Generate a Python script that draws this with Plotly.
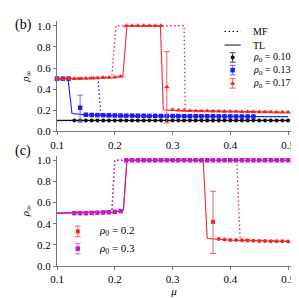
import plotly.graph_objects as go

# ---------------- data (panel b) ----------------
mu_k = [round(0.13 + 0.01 * i, 2) for i in range(38)]
rho_k = [0.105] * 38
tl_k_x = [0.1, 0.5]
tl_k_y = [0.105, 0.105]
mf_k_x = [0.1, 0.5]
mf_k_y = [0.102, 0.102]

mu_b = [0.10, 0.11, 0.12] + [round(0.15 + 0.01 * i, 2) for i in range(30)]
rho_b = [0.5, 0.5, 0.5,
         0.158, 0.156, 0.155, 0.154, 0.153, 0.152, 0.151, 0.150, 0.150, 0.149,
         0.149, 0.148, 0.148, 0.147, 0.147, 0.146, 0.146, 0.145, 0.145, 0.145,
         0.144, 0.144, 0.144, 0.143, 0.143, 0.143, 0.142, 0.142, 0.142, 0.142]
mu_b_err = [0.14]
rho_b_err = [0.225]
b_err_plus = [0.12]
b_err_minus = [0.135]
tl_b_x = [0.10, 0.119, 0.126, 0.139, 0.15, 0.2, 0.3, 0.4, 0.5]
tl_b_y = [0.5, 0.5, 0.17, 0.165, 0.157, 0.150, 0.145, 0.142, 0.140]
mf_b_x = [0.10, 0.171, 0.176, 0.2, 0.3, 0.4, 0.5]
mf_b_y = [0.5, 0.5, 0.145, 0.142, 0.141, 0.140, 0.140]

mu_r = ([round(0.10 + 0.01 * i, 2) for i in range(19)]
        + [round(0.30 + 0.01 * i, 2) for i in range(21)])
rho_r = [0.5, 0.5, 0.5, 0.5, 0.5, 0.502, 0.504, 0.506, 0.508, 0.51, 0.513, 0.52,
         1.0, 1.0, 1.0, 1.0, 1.0, 1.0, 1.0,
         0.205, 0.2, 0.198, 0.196, 0.195, 0.194, 0.193, 0.192, 0.191, 0.19,
         0.189, 0.188, 0.187, 0.186, 0.186, 0.185, 0.184, 0.184, 0.183, 0.183, 0.182]
mu_r_err = [0.29]
rho_r_err = [0.42]
r_err_plus = [0.335]
r_err_minus = [0.34]
tl_r_x = [0.10, 0.20, 0.214, 0.221, 0.279, 0.284, 0.30, 0.40, 0.50]
tl_r_y = [0.5, 0.51, 0.527, 1.0, 1.0, 0.205, 0.2, 0.19, 0.182]
mf_r_x = [0.10, 0.195, 0.202, 0.32, 0.322, 0.40, 0.50]
mf_r_y = [0.5, 0.52, 1.0, 1.0, 0.195, 0.188, 0.182]

# ---------------- data (panel c) ----------------
mu_c2 = ([round(0.13 + 0.01 * i, 2) for i in range(24)]
         + [round(0.38 + 0.01 * i, 2) for i in range(13)])
rho_c2 = [0.5, 0.5, 0.5, 0.502, 0.504, 0.506, 0.508, 0.512, 0.52,
          1.0, 1.0, 1.0, 1.0, 1.0, 1.0, 1.0, 1.0, 1.0, 1.0, 1.0, 1.0, 1.0, 1.0, 1.0,
          0.255, 0.25, 0.247, 0.245, 0.243, 0.241, 0.239, 0.237, 0.236, 0.235,
          0.234, 0.233, 0.232]
mu_c2_err = [0.37]
rho_c2_err = [0.418]
c2_err_plus = [0.288]
c2_err_minus = [0.30]
tl_c2_x = [0.10, 0.20, 0.215, 0.221, 0.353, 0.36, 0.40, 0.50]
tl_c2_y = [0.5, 0.51, 0.53, 1.0, 1.0, 0.26, 0.245, 0.232]
mf_c2_x = [0.10, 0.195, 0.20, 0.411, 0.417, 0.50]
mf_c2_y = [0.5, 0.52, 1.0, 1.0, 0.25, 0.235]

mu_c3 = [round(0.13 + 0.01 * i, 2) for i in range(38)]
rho_c3 = [0.5, 0.5, 0.5, 0.502, 0.504, 0.506, 0.508, 0.512, 0.52] + [1.0] * 29
tl_c3_x = [0.10, 0.20, 0.215, 0.221, 0.50]
tl_c3_y = [0.5, 0.51, 0.53, 1.0, 1.0]
mf_c3_x = [0.10, 0.195, 0.20, 0.50]
mf_c3_y = [0.5, 0.52, 1.0, 1.0]

x_ticks = [0.1, 0.2, 0.3, 0.4, 0.5]
y_ticks = [0.0, 0.2, 0.4, 0.6, 0.8, 1.0]

BLACK = "#111111"
BLUE = "#1a1aff"
RED = "#f02828"
MAG = "#c020c0"
FONT = "Liberation Serif"
DOT = "1.5px,2.5px"
TICK_SIZE = 11
LEG_SIZE = 10

fig = go.Figure()


def line(x, y, color, dash, xa, ya, width=1.1):
    fig.add_trace(go.Scatter(x=x, y=y, mode="lines", showlegend=False,
                             line=dict(color=color, width=width, dash=dash),
                             xaxis=xa, yaxis=ya, hoverinfo="skip"))


def pts(x, y, color, symbol, size, xa, ya, err=None, errcolor=None):
    kw = {}
    if err is not None:
        kw["error_y"] = dict(type="data", array=err[0], arrayminus=err[1],
                             symmetric=False, color=errcolor, thickness=1, width=3)
    fig.add_trace(go.Scatter(x=x, y=y, mode="markers", showlegend=False,
                             marker=dict(color=color, symbol=symbol, size=size, line=dict(width=0)),
                             xaxis=xa, yaxis=ya, cliponaxis=False, **kw))


# panel b
line(mf_k_x, mf_k_y, BLACK, DOT, "x", "y")
line(tl_k_x, tl_k_y, BLACK, "solid", "x", "y")
pts(mu_k, rho_k, BLACK, "circle", 4, "x", "y")
line(mf_b_x, mf_b_y, BLUE, DOT, "x", "y", 1.3)
line(tl_b_x, tl_b_y, BLUE, "solid", "x", "y")
pts(mu_b, rho_b, BLUE, "square", 4.5, "x", "y")
pts(mu_b_err, rho_b_err, BLUE, "square", 4.5, "x", "y",
    err=(b_err_plus, b_err_minus), errcolor="#6a6aff")
line(mf_r_x, mf_r_y, RED, DOT, "x", "y", 1.3)
line(tl_r_x, tl_r_y, RED, "solid", "x", "y")
pts(mu_r, rho_r, RED, "triangle-up", 5, "x", "y")
pts(mu_r_err, rho_r_err, RED, "triangle-up", 5, "x", "y",
    err=(r_err_plus, r_err_minus), errcolor="#f06060")

# panel c
line(mf_c2_x, mf_c2_y, RED, DOT, "x2", "y2", 1.3)
line(tl_c2_x, tl_c2_y, RED, "solid", "x2", "y2")
pts(mu_c2, rho_c2, RED, "circle", 4, "x2", "y2")
pts(mu_c2_err, rho_c2_err, RED, "square", 4, "x2", "y2",
    err=(c2_err_plus, c2_err_minus), errcolor="#f06060")
line(mf_c3_x, mf_c3_y, MAG, DOT, "x2", "y2", 1.3)
line(tl_c3_x, tl_c3_y, MAG, "solid", "x2", "y2")
pts(mu_c3, rho_c3, MAG, "square", 4.5, "x2", "y2")

# ---------------- legends (drawn glyphs + text) ----------------
leg_b_labels = ["MF", "TL", "<i>ρ</i><sub>0</sub> = 0.10",
                "<i>ρ</i><sub>0</sub> = 0.13", "<i>ρ</i><sub>0</sub> = 0.17"]
leg_b_y = [0.945, 0.818, 0.70, 0.58, 0.455]
leg_b_gx = 0.404
leg_b_tx = 0.435
line([leg_b_gx - 0.014, leg_b_gx + 0.014], [leg_b_y[0]] * 2, BLACK, DOT, "x", "y")
line([leg_b_gx - 0.014, leg_b_gx + 0.014], [leg_b_y[1]] * 2, BLACK, "solid", "x", "y")
pts([leg_b_gx], [leg_b_y[2]], BLACK, "circle", 4, "x", "y", err=([0.045], [0.045]), errcolor="#444444")
pts([leg_b_gx], [leg_b_y[3]], BLUE, "square", 4.5, "x", "y", err=([0.045], [0.045]), errcolor="#6a6aff")
pts([leg_b_gx], [leg_b_y[4]], RED, "triangle-up", 5, "x", "y", err=([0.045], [0.045]), errcolor="#f06060")

leg_c_labels = ["<i>ρ</i><sub>0</sub> = 0.2", "<i>ρ</i><sub>0</sub> = 0.3"]
leg_c_y = [0.327, 0.164]
leg_c_gx = 0.136
leg_c_tx = 0.170
pts([leg_c_gx], [leg_c_y[0]], RED, "square", 4, "x2", "y2", err=([0.05], [0.05]), errcolor="#f06060")
pts([leg_c_gx], [leg_c_y[1]], MAG, "square", 4.5, "x2", "y2", err=([0.05], [0.05]), errcolor="#d070d0")

annots = []
for lab, yy in zip(leg_b_labels, leg_b_y):
    annots.append(dict(x=leg_b_tx, y=yy, xref="x", yref="y", text=lab, showarrow=False,
                       xanchor="left", yanchor="middle", font=dict(family=FONT, size=LEG_SIZE)))
for lab, yy in zip(leg_c_labels, leg_c_y):
    annots.append(dict(x=leg_c_tx, y=yy, xref="x2", yref="y2", text=lab, showarrow=False,
                       xanchor="left", yanchor="middle", font=dict(family=FONT, size=LEG_SIZE + 1)))
annots.append(dict(x=0.0, y=1.0, xref="paper", yref="paper", text="(b)", showarrow=False,
                   font=dict(family=FONT, size=14), xshift=-34, yshift=-4,
                   xanchor="center", yanchor="middle"))
annots.append(dict(x=0.0, y=0.451, xref="paper", yref="paper", text="(c)", showarrow=False,
                   font=dict(family=FONT, size=14), xshift=-34, yshift=5,
                   xanchor="center", yanchor="middle"))

axis_common = dict(range=[0.1, 0.505], tickvals=x_ticks, ticktext=[f"{v:.1f}" for v in x_ticks],
                   showline=True, linecolor="#777777", linewidth=1, ticks="outside",
                   ticklen=3, tickcolor="#777777", showgrid=False, zeroline=False,
                   tickfont=dict(family=FONT, size=TICK_SIZE))
yaxis_common = dict(range=[0, 1.045], tickvals=y_ticks, ticktext=[f"{v:.1f}" for v in y_ticks],
                    showline=True, linecolor="#777777", linewidth=1, ticks="outside",
                    ticklen=3, tickcolor="#777777", showgrid=False, zeroline=False,
                    tickfont=dict(family=FONT, size=TICK_SIZE),
                    title=dict(text="<i>ρ</i><sub>∞</sub>", font=dict(family=FONT, size=11), standoff=5))

fig.update_layout(
    width=299, height=298,
    margin=dict(l=49, r=16, t=12, b=31),
    paper_bgcolor="white", plot_bgcolor="white",
    font=dict(family=FONT, size=11, color="black"),
    showlegend=False,
    xaxis=dict(domain=[0, 1], anchor="y", **axis_common),
    yaxis=dict(domain=[0.549, 1], anchor="x", **yaxis_common),
    xaxis2=dict(domain=[0, 1], anchor="y2",
                title=dict(text="<i>μ</i>", font=dict(family=FONT, size=11), standoff=1), **axis_common),
    yaxis2=dict(domain=[0, 0.451], anchor="x2", **yaxis_common),
    annotations=annots,
)

fig.write_html("out.html")
